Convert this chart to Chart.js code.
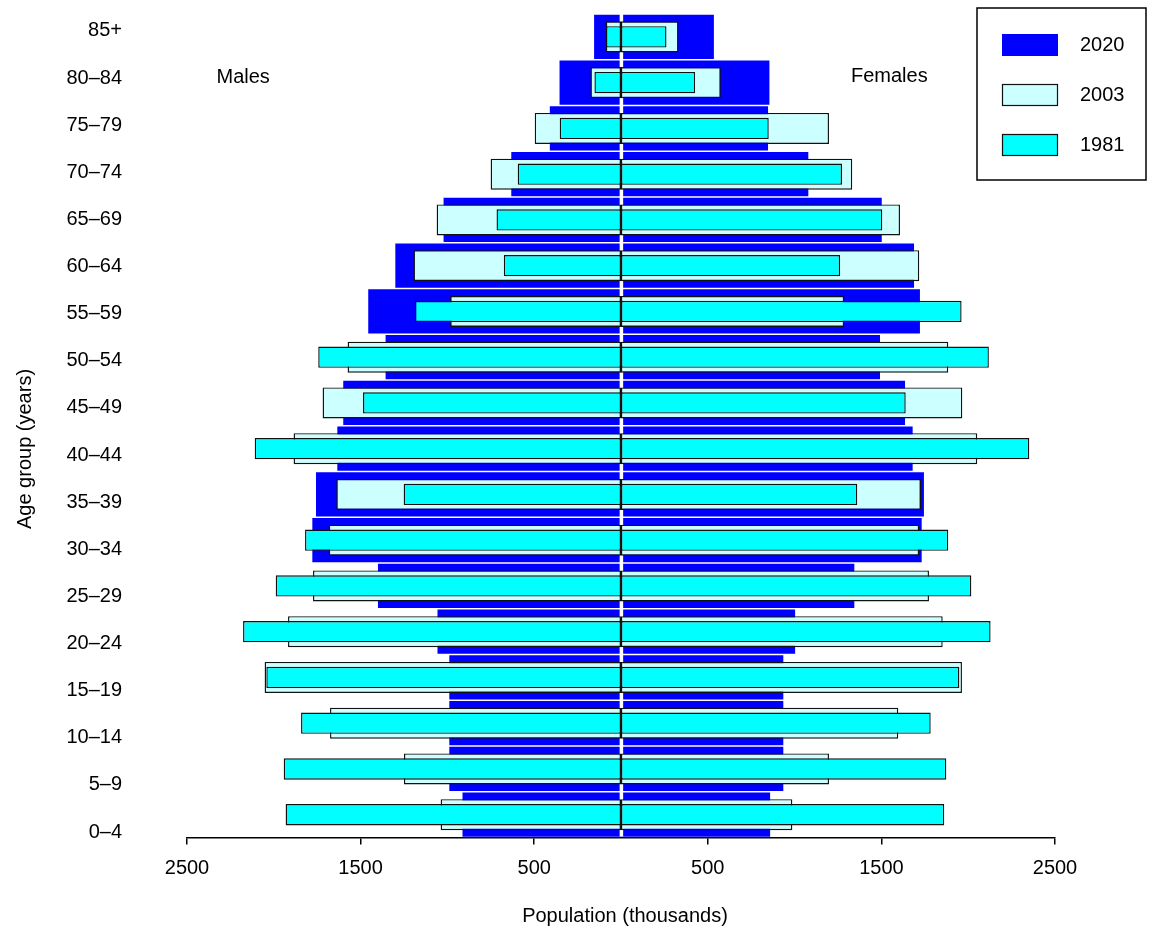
<!DOCTYPE html>
<html>
<head>
<meta charset="utf-8">
<script src="https://cdn.jsdelivr.net/npm/chart.js@4.4.1/dist/chart.umd.min.js"></script>
<style>
  html, body { margin: 0; padding: 0; background: #ffffff; }
  canvas { display: block; }
</style>
</head>
<body>
<canvas id="pyramid" width="1149" height="931"></canvas>
<script>
// Age groups, oldest at the top
const ageGroups = ['85+', '80–84', '75–79', '70–74', '65–69', '60–64', '55–59', '50–54', '45–49',
                   '40–44', '35–39', '30–34', '25–29', '20–24', '15–19', '10–14', '5–9', '0–4'];

// Population in thousands, same order as ageGroups
const males2020   = [155, 354, 410, 632, 1022, 1300, 1456, 1356, 1600, 1634, 1757, 1778, 1400, 1057, 989, 989, 989, 913];
const females2020 = [535, 855, 847, 1079, 1502, 1688, 1722, 1492, 1636, 1680, 1745, 1732, 1344, 1003, 935, 935, 935, 859];
const males2003   = [88, 176, 497, 751, 1062, 1195, 984, 1575, 1719, 1886, 1640, 1684, 1774, 1918, 2053, 1676, 1250, 1039];
const females2003 = [331, 575, 1198, 1332, 1607, 1718, 1286, 1885, 1966, 2052, 1728, 1718, 1774, 1853, 1964, 1597, 1198, 987];
const males1981   = [86, 153, 353, 595, 717, 675, 1187, 1744, 1486, 2110, 1252, 1820, 1989, 2177, 2043, 1843, 1943, 1932];
const females1981 = [262, 427, 851, 1273, 1505, 1262, 1962, 2119, 1640, 2352, 1361, 1885, 2018, 2129, 1949, 1784, 1874, 1862];

// Axis ticks (thousands; males to the left of zero)
const xTickValues = [-2500, -1500, -500, 500, 1500, 2500];

const FONT = '"Liberation Sans", Arial, Helvetica, sans-serif';

const yearStyle = {
  '2020': { fill: '#0000ff', border: 'rgba(0,0,0,0)', borderWidth: 0,   barPercentage: 0.968 },
  '2003': { fill: '#ccffff', border: '#111111',       borderWidth: 1.4, barPercentage: 0.678 },
  '1981': { fill: '#00ffff', border: '#111111',       borderWidth: 1.4, barPercentage: 0.466 }
};

function makeSet(year, sex, values, sign) {
  const s = yearStyle[year];
  return {
    label: year,
    sex: sex,
    data: values.map(v => sign * v),
    backgroundColor: s.fill,
    borderColor: s.border,
    borderWidth: s.borderWidth,
    borderSkipped: false,
    grouped: false,
    categoryPercentage: 1,
    barPercentage: s.barPercentage,
    yAxisID: 'y'
  };
}

// Index 0 is painted last, so the narrowest series sits on top
const datasets = [
  makeSet('1981', 'M', males1981, -1),
  makeSet('1981', 'F', females1981, 1),
  makeSet('2003', 'M', males2003, -1),
  makeSet('2003', 'F', females2003, 1),
  makeSet('2020', 'M', males2020, -1),
  makeSet('2020', 'F', females2020, 1)
];

const legendYears = ['2020', '2003', '1981'];

const decorations = {
  id: 'decorations',
  afterDatasetDraw(chart, args) {
    // white divider over the 2020 bars, under the narrower ones
    if (args.index !== 4) return;
    const { ctx, chartArea } = chart;
    const x0 = chart.scales.x.getPixelForValue(0);
    ctx.save();
    ctx.strokeStyle = '#ffffff';
    ctx.lineWidth = 3.5;
    ctx.beginPath();
    ctx.moveTo(x0 + 0.4, chartArea.top);
    ctx.lineTo(x0 + 0.4, chartArea.bottom - 1);
    ctx.stroke();
    ctx.restore();
  },
  afterDraw(chart) {
    const { ctx } = chart;
    ctx.save();
    ctx.fillStyle = '#000000';
    ctx.font = '20px ' + FONT;
    ctx.textBaseline = 'middle';

    ctx.textAlign = 'left';
    ctx.fillText('Males', 216.5, 77);
    ctx.fillText('Females', 851, 76);

    ctx.textAlign = 'center';
    ctx.fillText('Population (thousands)', 625, 916);

    ctx.save();
    ctx.translate(25, 449);
    ctx.rotate(-Math.PI / 2);
    ctx.fillText('Age group (years)', 0, 0);
    ctx.restore();

    // legend
    ctx.strokeStyle = '#000000';
    ctx.lineWidth = 1.5;
    ctx.strokeRect(977, 8, 169, 172);
    legendYears.forEach((yr, i) => {
      const s = yearStyle[yr];
      const y = 34 + i * 50;
      ctx.fillStyle = s.fill;
      ctx.fillRect(1002, y, 56, 22);
      if (s.borderWidth > 0) {
        ctx.strokeStyle = s.border;
        ctx.lineWidth = 1.2;
        ctx.strokeRect(1002.5, y + 0.5, 55, 21);
      }
      ctx.fillStyle = '#000000';
      ctx.textAlign = 'left';
      ctx.fillText(yr, 1080, y + 11.5);
    });
    ctx.restore();
  }
};

new Chart(document.getElementById('pyramid'), {
  type: 'bar',
  data: { labels: ageGroups, datasets: datasets },
  plugins: [decorations],
  options: {
    indexAxis: 'y',
    responsive: false,
    animation: false,
    devicePixelRatio: 1,
    layout: { padding: { top: 14, right: 94, left: 0, bottom: 0 } },
    plugins: { legend: { display: false }, tooltip: { enabled: false } },
    scales: {
      x: {
        type: 'linear',
        position: 'bottom',
        min: -2500,
        max: 2500,
        afterBuildTicks(scale) { scale.ticks = xTickValues.map(v => ({ value: v })); },
        afterFit(scale) { scale.height = 93.4; },
        ticks: {
          callback: v => String(Math.abs(v)),
          font: { family: FONT, size: 20 },
          color: '#000000',
          padding: 12,
          maxRotation: 0,
          autoSkip: false
        },
        grid: { drawOnChartArea: false, drawTicks: true, tickLength: 7, color: '#000000', lineWidth: 1.5 },
        border: { display: true, color: '#000000', width: 1.5 }
      },
      y: {
        type: 'category',
        display: false,
        offset: true,
        grid: { display: false }
      },
      yl: {
        type: 'linear',
        axis: 'y',
        position: 'left',
        reverse: true,
        offset: false,
        beginAtZero: false,
        bounds: 'data',
        min: -0.359,
        max: 17.119,
        afterBuildTicks(scale) { scale.ticks = ageGroups.map((_, i) => ({ value: i })); },
        afterFit(scale) {
          scale.width = 187;
          scale.paddingTop = 0;
          scale.paddingBottom = 0;
        },
        ticks: {
          callback: v => ageGroups[v],
          font: { family: FONT, size: 20 },
          color: '#000000',
          padding: 65,
          autoSkip: false
        },
        grid: { display: false, drawTicks: false, offset: false },
        border: { display: false }
      }
    }
  }
});
</script>
</body>
</html>
